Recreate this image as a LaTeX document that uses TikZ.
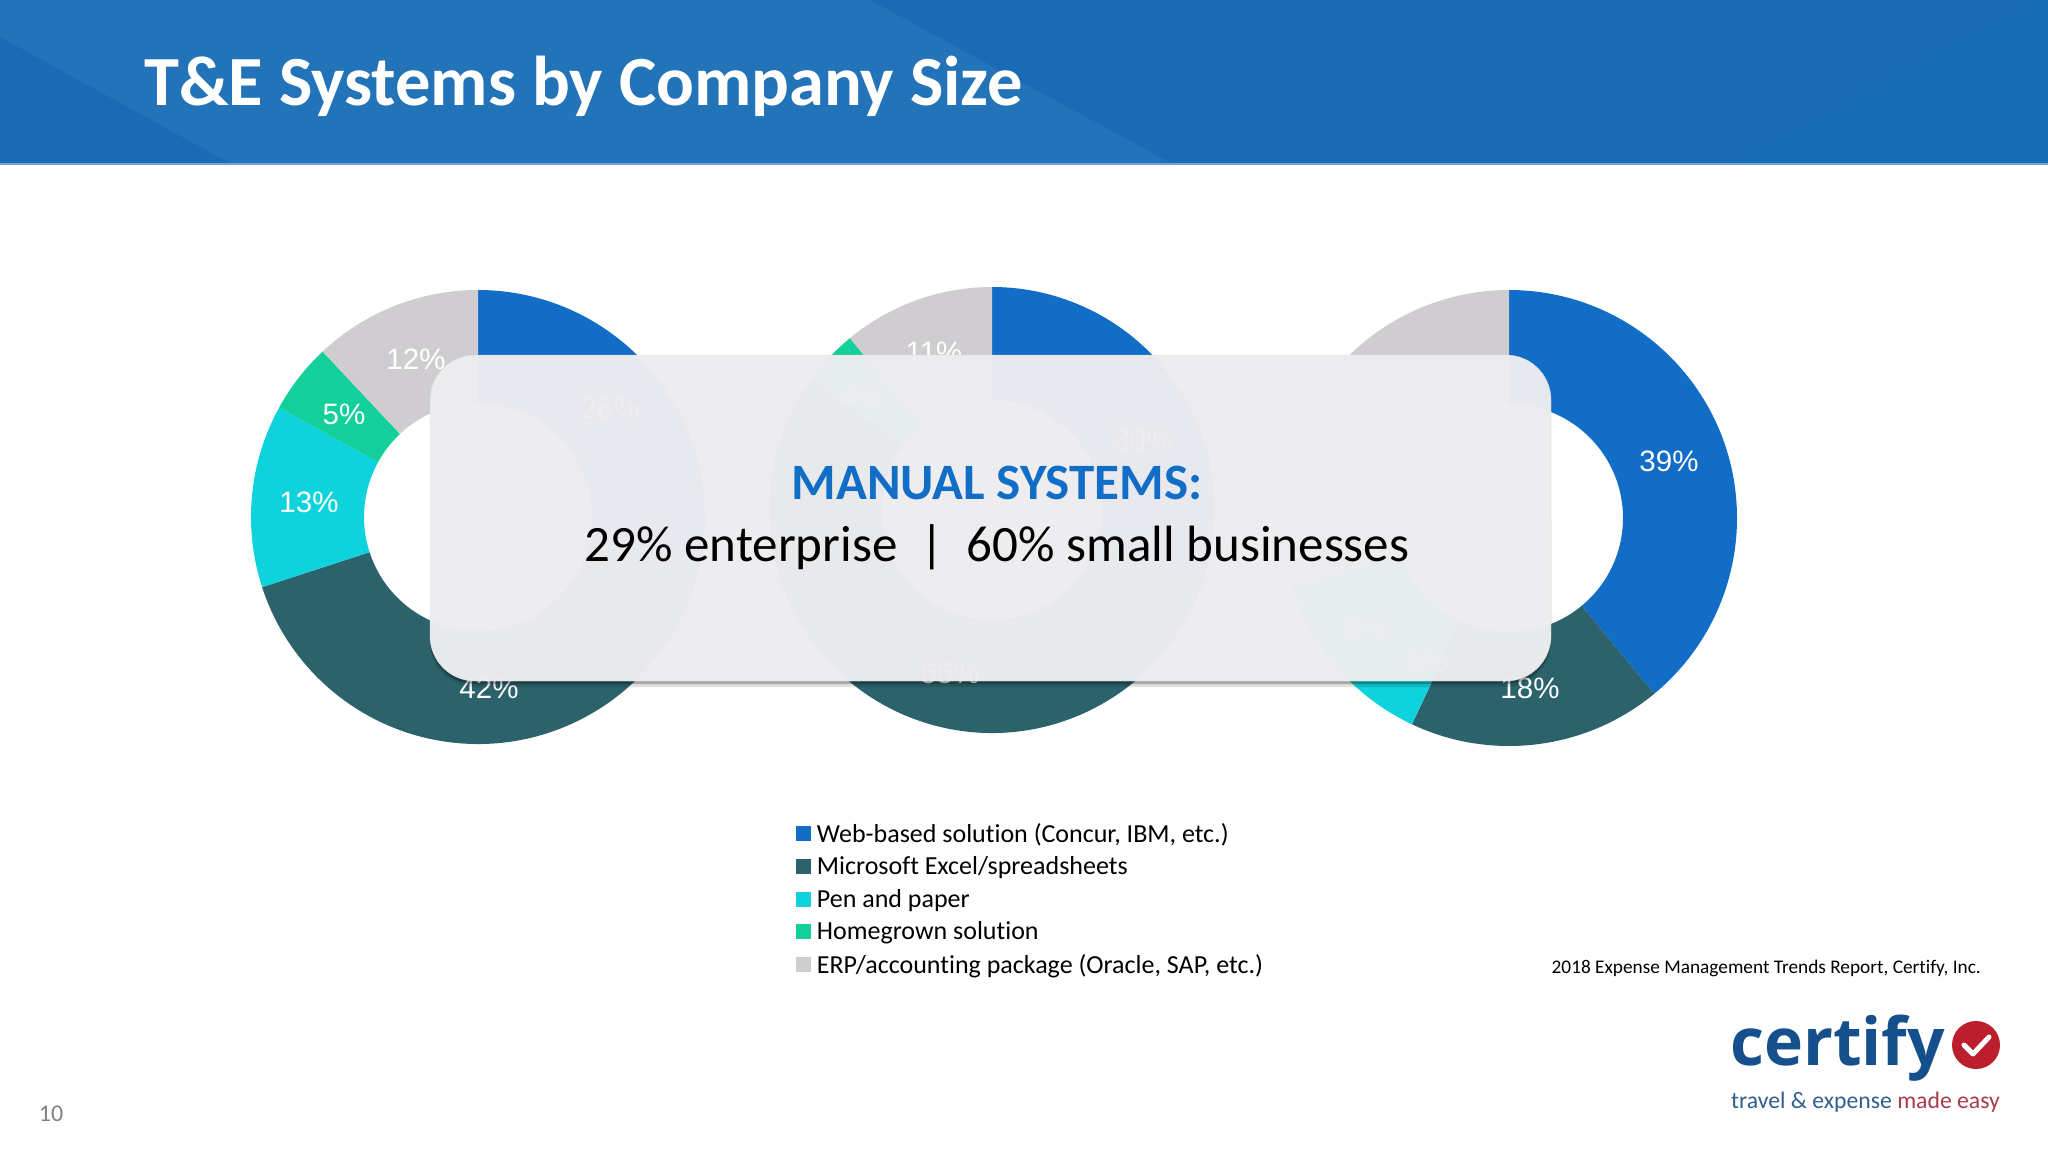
\documentclass[tikz,border=0pt]{standalone}
\usepackage{fontspec}
\setmainfont{Carlito}[Ligatures=CommonOff]
\newfontfamily\piefont{Liberation Sans}
\newfontfamily\logofont{Open Sans}
\usepackage{xcolor}
\usetikzlibrary{positioning}

\definecolor{bandlight}{HTML}{2273B8}
\definecolor{banddark}{HTML}{186BB4}
\definecolor{bandright}{HTML}{186CB6}
\definecolor{webblue}{HTML}{116DC6}
\definecolor{excelteal}{HTML}{2C626C}
\definecolor{pencyan}{HTML}{0ED2DC}
\definecolor{homegreen}{HTML}{13D09A}
\definecolor{erpgray}{HTML}{CFCDD0}
\definecolor{panelgray}{HTML}{EDEDEF}
\definecolor{logoblue}{HTML}{15508C}
\definecolor{logored}{HTML}{BD1E2D}
\definecolor{tagblue}{HTML}{2F5F8F}
\definecolor{tagred}{HTML}{A93A4C}

% centre, outer radius, inner radius, from percent, to percent
\newcommand{\ringslice}[6][]{%
  \fill[#1] ([shift={(-90+3.6*#5:#3)}]#2) arc (-90+3.6*#5:-90+3.6*#6:#3)
    -- ([shift={(-90+3.6*#6:#4)}]#2) arc (-90+3.6*#6:-90+3.6*#5:#4) -- cycle;}

\begin{document}
\begin{tikzpicture}[
    x=1pt,
    y=-1pt,
    web/.style={fill=webblue},
    excel/.style={fill=excelteal},
    pen/.style={fill=pencyan},
    homegrown/.style={fill=homegreen},
    erp/.style={fill=erpgray},
    pct/.style={text=white, inner sep=0pt, font=\piefont\fontsize{29.5}{34}\selectfont},
    swatch/.style={rectangle, minimum width=15pt, minimum height=15pt, inner sep=0pt},
    legend/.style={anchor=west, inner sep=0pt, yshift=-2pt, font=\fontsize{26}{30}\selectfont}
]
\useasboundingbox (0,0) rectangle (2048,1152);
\fill[white] (0,0) rectangle (2048,1152);

% Header band
\fill[bandlight] (0,0) rectangle (2048,164);
\fill[banddark] (0,37) -- (231,164) -- (0,164) -- cycle;
\fill[banddark] (870,0) -- (1173,164) -- (1729,164) -- (2030,0) -- cycle;
\fill[bandright] (2030,0) -- (1729,164) -- (2048,164) -- (2048,0) -- cycle;
\fill[white!35!bandlight] (0,163) rectangle (2048,165);
\node[anchor=base west, inner sep=0pt, text=white, font=\bfseries\fontsize{70.5}{84}\selectfont] (title) at (144,105) {T\&E Systems by Company Size};

% Donut centres
\coordinate (left) at (478,517);
\coordinate (middle) at (992,510);
\coordinate (right) at (1509,518);

% Left donut
\ringslice[web]{left}{227}{114}{0}{28}
\ringslice[excel]{left}{227}{114}{28}{70}
\ringslice[pen]{left}{227}{114}{70}{83}
\ringslice[homegrown]{left}{227}{114}{83}{88}
\ringslice[erp]{left}{227}{114}{88}{100}

% Middle donut
\ringslice[web]{middle}{223}{110}{0}{30}
\ringslice[excel]{middle}{223}{110}{30}{85}
\ringslice[homegrown]{middle}{223}{110}{85}{89}
\ringslice[erp]{middle}{223}{110}{89}{100}

% Right donut
\ringslice[web]{right}{228}{114}{0}{39}
\ringslice[excel]{right}{228}{114}{39}{57}
\ringslice[pen]{right}{228}{114}{57}{62}
\ringslice[homegrown]{right}{228}{114}{62}{70}
\ringslice[erp]{right}{228}{114}{70}{100}

% Percent labels
\node[pct] (left_web) at (610,408) {28\%};
\node[pct] (left_excel) at (489,688) {42\%};
\node[pct] (left_pen) at (309,502) {13\%};
\node[pct] (left_home) at (344,414) {5\%};
\node[pct] (left_erp) at (416,359) {12\%};
\node[pct] (middle_web) at (1143,440) {30\%};
\node[pct] (middle_excel) at (950,673) {55\%};
\node[pct] (middle_home) at (863,397) {4\%};
\node[pct] (middle_erp) at (934,352) {11\%};
\node[pct] (right_web) at (1669,461) {39\%};
\node[pct] (right_excel) at (1530,688) {18\%};
\node[pct] (right_pen) at (1427,662) {5\%};
\node[pct] (right_home) at (1367,628) {8\%};

% Shadow of the panel, kept outside it
\begin{scope}
\clip (400,520) rectangle (1600,700);
\fill[black, opacity=0.12, even odd rule, rounded corners=45pt] (430,360) rectangle (1551,687) (430,355) rectangle (1551,681);
\fill[black, opacity=0.25, even odd rule, rounded corners=45pt] (430,358) rectangle (1551,684) (430,355) rectangle (1551,681);
\end{scope}

% Callout panel
\node[rectangle, rounded corners=45pt, fill=panelgray, fill opacity=0.975, draw=gray!30, line width=0.4pt, minimum width=1121pt, minimum height=326pt, inner sep=0pt] (panel) at (990.5,518) {};
\node[inner sep=0pt, anchor=base, text=webblue, font=\bfseries\fontsize{51}{60}\selectfont] (manual) at (997,499) {MANUAL SYSTEMS:};
\node[inner sep=0pt, anchor=base, text=black, font=\fontsize{51}{60}\selectfont] (shares) at (997,561) {29\% enterprise~~|~~60\% small businesses};

% Legend
\node[swatch, web] (key_web) at (803,833) {};
\node[swatch, excel] (key_excel) at (803,866) {};
\node[swatch, pen] (key_pen) at (803,899) {};
\node[swatch, homegrown] (key_home) at (803,931) {};
\node[swatch, erp] (key_erp) at (803,964) {};
\node[legend, right=6pt of key_web] {Web-based solution (Concur, IBM, etc.)};
\node[legend, right=6pt of key_excel] {Microsoft Excel/spreadsheets};
\node[legend, right=6pt of key_pen] {Pen and paper};
\node[legend, right=6pt of key_home] {Homegrown solution};
\node[legend, right=6pt of key_erp] {ERP/accounting package (Oracle, SAP, etc.)};

% Source and page number
\node[anchor=base east, inner sep=0pt, text=black, font=\fontsize{19.3}{23}\selectfont] (source) at (1981,973) {2018 Expense Management Trends Report, Certify, Inc.};
\node[inner sep=0pt, text=gray, font=\fontsize{24}{28}\selectfont] (pageno) at (51,1114) {10};

% Logo
\node[anchor=base west, inner sep=0pt, text=logoblue, font=\logofont\bfseries\fontsize{66}{80}\selectfont] (certify) at (1730,1065) {certify};
\node[circle, fill=logored, minimum size=48pt, inner sep=0pt] (badge) at (1976,1045) {};
\draw[white, line width=5pt, line cap=round, line join=round] (1964,1045) -- (1973,1054) -- (1989,1037);
\node[anchor=base west, inner sep=0pt, font=\fontsize{23.7}{28}\selectfont] (tagline) at (1731,1108) {\textcolor{tagblue}{travel \& expense} \textcolor{tagred}{made easy}};
\end{tikzpicture}
\end{document}
